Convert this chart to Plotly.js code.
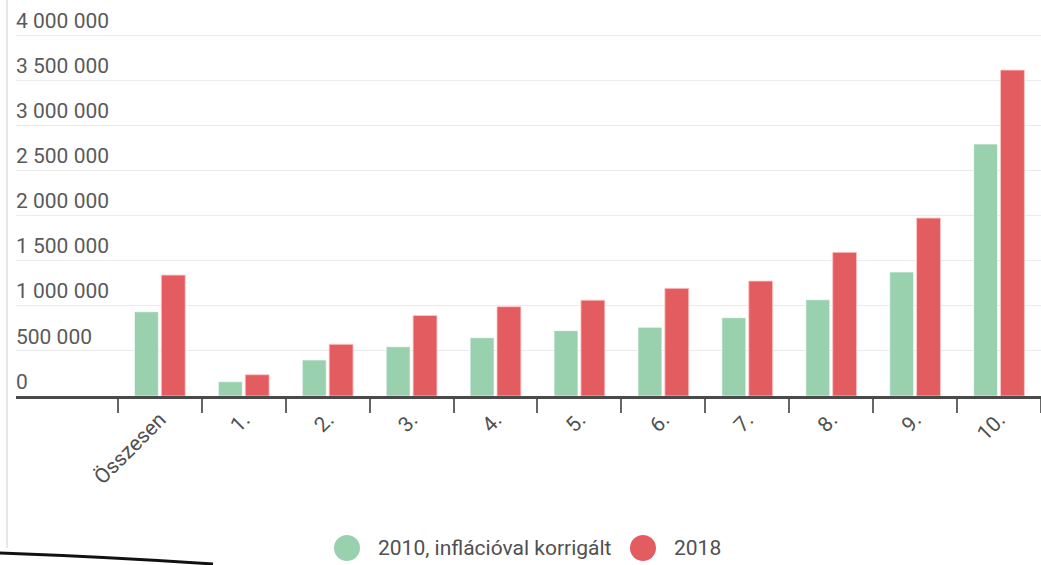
<!DOCTYPE html>
<html>
<head>
<meta charset="utf-8">
<script src="https://cdn.plot.ly/plotly-3.0.1.min.js"></script>
<style>html,body{margin:0;padding:0;background:#fff;}#chart{width:1041px;height:565px;}</style>
</head>
<body>
<div id="chart"></div>
<script>
const categories = ["Összesen", "1.", "2.", "3.", "4.", "5.", "6.", "7.", "8.", "9.", "10."];
const seriesNames = ["2010, inflációval korrigált", "2018"];
const values2010 = [934000, 158000, 399000, 546000, 646000, 724000, 761000, 868000, 1067000, 1374000, 2792000];
const values2018 = [1340000, 236000, 573000, 892000, 990000, 1062000, 1193000, 1274000, 1592000, 1972000, 3612000];
const seriesColors = ["#99d1af", "#e35d60"];

const W = 1041, H = 565;
const L = 16, R = 0, T = 8, B = 169;
const pw = W - L - R, ph = H - T - B;
const px = x => (x - L) / pw;
const py = y => (H - B - y) / ph;

const traces = [
  {type: "bar", x: categories, y: values2010, name: seriesNames[0], showlegend: false,
   marker: {color: seriesColors[0], line: {color: "rgba(255,255,255,0.6)", width: 1}}, hoverinfo: "y"},
  {type: "bar", x: categories, y: values2018, name: seriesNames[1], showlegend: false,
   marker: {color: seriesColors[1], line: {color: "rgba(255,200,200,0.8)", width: 1}}, hoverinfo: "y"}
];

const font = "Roboto, 'Noto Sans', sans-serif";
const legendY = 548;
const legendItems = [{cx: 347, tx: 376}, {cx: 643, tx: 672}];

const shapes = [
  {type: "line", xref: "paper", yref: "paper", x0: px(7), x1: px(7), y0: py(0), y1: py(548),
   line: {color: "#d0d0d0", width: 1}},
  {type: "path", xref: "paper", yref: "paper",
   path: `M ${px(0)} ${py(553)} Q ${px(110)} ${py(557)} ${px(213)} ${py(564)}`,
   line: {color: "#111", width: 3}}
];
const annotations = [];
legendItems.forEach((it, i) => {
  shapes.push({type: "circle", xref: "paper", yref: "paper", xsizemode: "pixel", ysizemode: "pixel",
    xanchor: px(it.cx), yanchor: py(legendY), x0: -13, x1: 13, y0: -13, y1: 13,
    fillcolor: seriesColors[i], line: {width: 0}});
  annotations.push({xref: "paper", yref: "paper", x: px(it.tx), y: py(legendY), xanchor: "left", yanchor: "middle",
    text: seriesNames[i], showarrow: false, font: {family: font, size: 21, color: "#505050"}});
});

const layout = {
  width: W, height: H,
  margin: {l: L, r: R, t: T, b: B, pad: 0},
  paper_bgcolor: "#fff", plot_bgcolor: "#fff",
  separators: ", ",
  bargap: 0.36, bargroupgap: 0.11, barmode: "group",
  showlegend: false,
  font: {family: font, color: "#555"},
  xaxis: {
    type: "category", range: [-1.714, 10.5], tickson: "boundaries",
    ticks: "outside", ticklen: 14, tickwidth: 2, tickcolor: "#666",
    tickangle: -45, tickfont: {family: font, size: 21, color: "#505050"},
    showline: true, linecolor: "#4a4a4a", linewidth: 3, showgrid: false, zeroline: false, fixedrange: true
  },
  yaxis: {
    range: [0, 4300000], dtick: 500000, tick0: 0,
    ticklabelposition: "inside top", ticks: "", tickformat: ",d", ticklabelstandoff: -3,
    tickfont: {family: font, size: 21, color: "#5a5a5a"},
    showgrid: true, gridcolor: "#ebebeb", gridwidth: 1, zeroline: false, showline: false, fixedrange: true
  },
  shapes: shapes,
  annotations: annotations
};

Plotly.newPlot("chart", traces, layout, {displayModeBar: false, staticPlot: true});
</script>
</body>
</html>
